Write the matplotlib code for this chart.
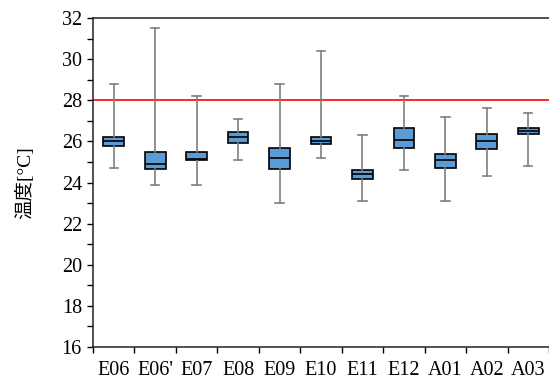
import numpy as np
import matplotlib.pyplot as plt
from matplotlib.ticker import MultipleLocator, FixedLocator

# dati
stazioni = ["E06", "E06'", "E07", "E08", "E09", "E10", "E11", "E12", "A01", "A02", "A03"]
whisk_alto = [28.8, 31.5, 28.2, 27.1, 28.8, 30.4, 26.3, 28.2, 27.2, 27.6, 27.4]
q3 = [26.2, 25.5, 25.5, 26.45, 25.7, 26.2, 24.6, 26.65, 25.4, 26.35, 26.65]
mediana = [26.0, 24.9, 25.15, 26.2, 25.2, 26.03, 24.4, 26.05, 25.08, 26.02, 26.5]
q1 = [25.77, 24.67, 25.08, 25.9, 24.65, 25.87, 24.15, 25.7, 24.72, 25.65, 26.35]
whisk_basso = [24.72, 23.9, 23.9, 25.1, 23.02, 25.2, 23.12, 24.6, 23.12, 24.33, 24.82]
soglia = 28

blu = '#5b9bd5'
grigio = '#7f7f7f'

plt.rcParams['font.family'] = ['Liberation Serif', 'Noto Sans CJK JP']

fig = plt.figure(figsize=(5.49, 3.79), dpi=100)
ax = fig.add_axes([0.1694, 0.0844, 0.8306, 0.8681])

stats = []
for i in range(len(stazioni)):
    stats.append(dict(label=stazioni[i], whislo=whisk_basso[i], q1=q1[i], med=mediana[i],
                      q3=q3[i], whishi=whisk_alto[i], fliers=[]))

ax.bxp(stats, positions=np.arange(1, len(stazioni) + 1), widths=0.5, patch_artist=True,
       showfliers=False,
       boxprops=dict(facecolor=blu, edgecolor='black', linewidth=1.2),
       medianprops=dict(color='black', linewidth=1.2),
       whiskerprops=dict(color=grigio, linewidth=1.2),
       capprops=dict(color=grigio, linewidth=1.2),
       capwidths=0.2, zorder=3)

ax.axhline(soglia, color='red', linewidth=1.2, zorder=2)

ax.set_xlim(0.5, len(stazioni) + 0.5)
ax.set_ylim(16, 32)
ax.yaxis.set_major_locator(MultipleLocator(2))
ax.yaxis.set_minor_locator(MultipleLocator(1))
ax.set_xticks(np.arange(1, len(stazioni) + 1))
ax.set_xticklabels(stazioni)
ax.xaxis.set_minor_locator(FixedLocator(np.arange(0.5, len(stazioni) + 0.6, 1)))

ax.tick_params(axis='y', which='both', direction='out', length=4, width=1, labelsize=14.5, pad=4)
ax.tick_params(axis='x', which='major', length=0, labelsize=14.5, pad=10)
ax.tick_params(axis='x', which='minor', direction='out', length=4, width=1)

for s in ['left', 'bottom', 'top']:
    ax.spines[s].set_linewidth(1.1)
    ax.spines[s].set_color('#222222')
ax.spines['right'].set_visible(False)

ax.set_ylabel('温度[°C]', fontsize=14, labelpad=20)

fig.savefig('out.png', dpi=100)
